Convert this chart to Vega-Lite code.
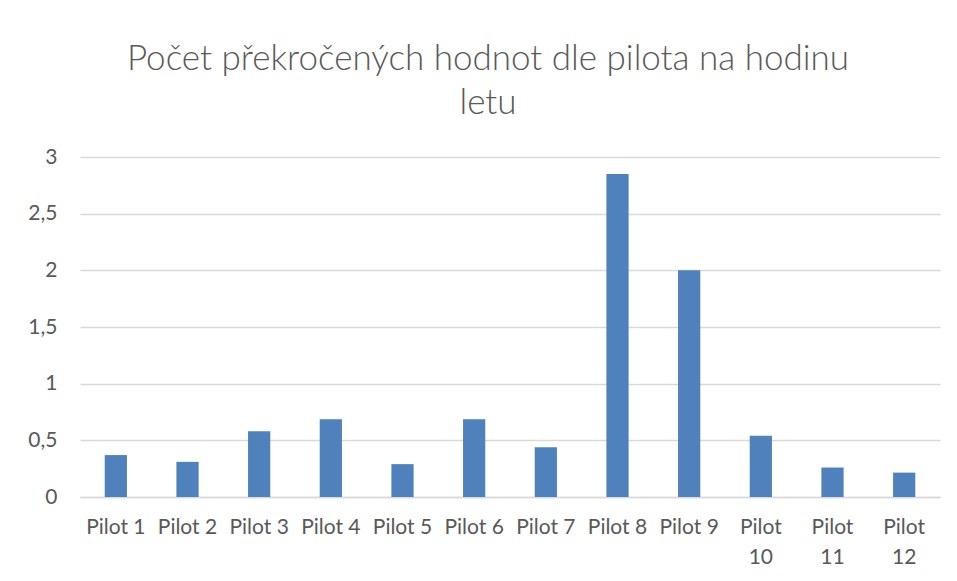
{
  "$schema": "https://vega.github.io/schema/vega-lite/v6.json",
  "autosize": {"type": "none"},
  "width": 860,
  "height": 340,
  "padding": {"left": 80, "top": 157, "right": 17, "bottom": 84},
  "background": "white",
  "title": {
    "text": ["Počet překročených hodnot dle pilota na hodinu", "letu"],
    "anchor": "middle",
    "frame": "group",
    "dx": -22,
    "offset": 25,
    "font": "Lato",
    "fontSize": 35,
    "fontWeight": 300,
    "color": "#595959",
    "lineHeight": 44
  },
  "data": {
    "values": [
      {"pilot": "Pilot 1", "value": 0.37},
      {"pilot": "Pilot 2", "value": 0.31},
      {"pilot": "Pilot 3", "value": 0.58},
      {"pilot": "Pilot 4", "value": 0.685},
      {"pilot": "Pilot 5", "value": 0.29},
      {"pilot": "Pilot 6", "value": 0.685},
      {"pilot": "Pilot 7", "value": 0.44},
      {"pilot": "Pilot 8", "value": 2.85},
      {"pilot": "Pilot 9", "value": 2.0},
      {"pilot": "Pilot 10", "value": 0.54},
      {"pilot": "Pilot 11", "value": 0.26},
      {"pilot": "Pilot 12", "value": 0.215}
    ]
  },
  "mark": {"type": "bar", "color": "#4f81bd"},
  "encoding": {
    "x": {
      "field": "pilot",
      "type": "nominal",
      "sort": null,
      "scale": {"paddingInner": 0.69, "paddingOuter": 0.345},
      "axis": {
        "title": null,
        "labelAngle": 0,
        "labelFont": "Lato",
        "labelFontSize": 21,
        "labelColor": "#595959",
        "labelPadding": 19,
        "labelLineHeight": 30,
        "labelExpr": "length(datum.label) > 7 ? split(datum.label, ' ') : datum.label",
        "ticks": false,
        "domainColor": "#d9d9d9",
        "domainWidth": 1.5,
        "grid": false
      }
    },
    "y": {
      "field": "value",
      "type": "quantitative",
      "scale": {"domain": [0, 3], "nice": false},
      "axis": {
        "title": null,
        "values": [0, 0.5, 1, 1.5, 2, 2.5, 3],
        "labelExpr": "replace(format(datum.value, '~g'), '.', ',')",
        "labelFont": "Lato",
        "labelFontSize": 21,
        "labelColor": "#595959",
        "labelPadding": 23,
        "ticks": false,
        "domain": false,
        "grid": true,
        "gridColor": "#d9d9d9",
        "gridWidth": 1.5
      }
    }
  },
  "config": {"view": {"stroke": null}}
}
